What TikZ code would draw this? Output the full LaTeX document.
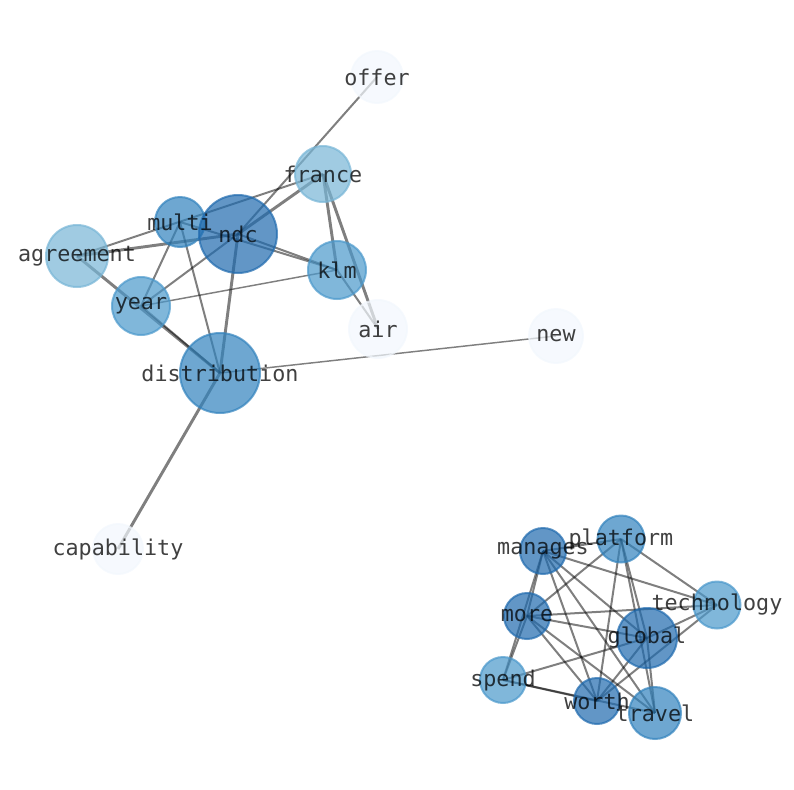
\documentclass[tikz,border=0pt]{standalone}
\usepackage{fontspec}
\setmonofont{DejaVu Sans Mono}
\definecolor{blueA}{HTML}{1F6AAE}
\definecolor{blueB}{HTML}{3182BD}
\definecolor{blueC}{HTML}{4A98CB}
\definecolor{blueD}{HTML}{77B5D6}
\definecolor{blueE}{HTML}{F2F7FD}
\begin{document}
\begin{tikzpicture}[x=0.75pt, y=-0.75pt,
		edge/.style={draw=black, draw opacity=0.5, line width=1.5pt},
		thin edge/.style={edge, line width=1.1pt},
		thick edge/.style={edge, line width=2.2pt},
		vertex/.style={circle, draw, fill, minimum size=#1*1.5pt, inner sep=0pt, fill opacity=0.7, draw opacity=0.7, line width=1.5pt},
		word/.style={font=\ttfamily\fontsize{16.3}{18}\selectfont, text=black, text opacity=0.75, inner sep=0pt}]
		\useasboundingbox (0,0) rectangle (794,790);
		
		\coordinate (offer) at (377,77);
		\coordinate (france) at (323,174);
		\coordinate (multi) at (180,222);
		\coordinate (ndc) at (238,234);
		\coordinate (agreement) at (77,256);
		\coordinate (klm) at (337,270);
		\coordinate (year) at (141,306);
		\coordinate (air) at (378,329);
		\coordinate (new) at (556,336);
		\coordinate (distribution) at (220,373);
		\coordinate (capability) at (118,549);
		\coordinate (manages) at (543,551);
		\coordinate (platform) at (621,539);
		\coordinate (technology) at (717,605);
		\coordinate (more) at (527,616);
		\coordinate (global) at (647,638);
		\coordinate (spend) at (503,680);
		\coordinate (worth) at (597,701);
		\coordinate (travel) at (655,713);
		
		\draw[edge] (offer) -- (ndc);
		\draw[thick edge] (france) -- (ndc);
		\draw[edge] (france) -- (agreement);
		\draw[thick edge] (france) -- (klm);
		\draw[thick edge] (france) -- (air);
		\draw[edge] (klm) -- (air);
		\draw[edge] (ndc) -- (klm);
		\draw[edge] (multi) -- (klm);
		\draw[thick edge] (agreement) -- (ndc);
		\draw[edge] (multi) -- (year);
		\draw[edge] (multi) -- (distribution);
		\draw[edge] (ndc) -- (year);
		\draw[thick edge] (ndc) -- (distribution);
		\draw[thin edge] (year) -- (klm);
		\draw[thick edge] (agreement) -- (distribution);
		\draw[edge] (year) -- (distribution);
		\draw[thin edge] (distribution) -- (new);
		\draw[thick edge] (distribution) -- (capability);
		
		\draw[edge] (manages) -- (platform);
		\draw[edge] (manages) -- (technology);
		\draw[edge] (manages) -- (more);
		\draw[edge] (manages) -- (spend);
		\draw[edge] (manages) -- (global);
		\draw[edge] (manages) -- (worth);
		\draw[edge] (manages) -- (travel);
		\draw[edge] (platform) -- (more);
		\draw[edge] (platform) -- (technology);
		\draw[edge] (platform) -- (global);
		\draw[edge] (platform) -- (travel);
		\draw[edge] (platform) -- (worth);
		\draw[edge] (technology) -- (more);
		\draw[edge] (technology) -- (global);
		\draw[edge] (technology) -- (worth);
		\draw[edge] (more) -- (global);
		\draw[edge] (more) -- (worth);
		\draw[edge] (more) -- (travel);
		\draw[edge] (more) -- (spend);
		\draw[edge] (global) -- (spend);
		\draw[edge] (global) -- (worth);
		\draw[edge] (global) -- (travel);
		\draw[edge] (spend) -- (worth);
		\draw[edge] (spend) -- (travel);
		
		\node[vertex=26, blueE] (offer-dot) at (offer) {};
		\node[vertex=28, blueD] (france-dot) at (france) {};
		\node[vertex=25, blueB] (multi-dot) at (multi) {};
		\node[vertex=39, blueA] (ndc-dot) at (ndc) {};
		\node[vertex=31, blueD] (agreement-dot) at (agreement) {};
		\node[vertex=29, blueC] (klm-dot) at (klm) {};
		\node[vertex=29, blueC] (year-dot) at (year) {};
		\node[vertex=29, blueE] (air-dot) at (air) {};
		\node[vertex=27, blueE] (new-dot) at (new) {};
		\node[vertex=40, blueB] (distribution-dot) at (distribution) {};
		\node[vertex=25, blueE] (capability-dot) at (capability) {};
		\node[vertex=23, blueA] (manages-dot) at (manages) {};
		\node[vertex=23.5, blueB] (platform-dot) at (platform) {};
		\node[vertex=23.5, blueC] (technology-dot) at (technology) {};
		\node[vertex=23, blueA] (more-dot) at (more) {};
		\node[vertex=30, blueA] (global-dot) at (global) {};
		\node[vertex=23, blueC] (spend-dot) at (spend) {};
		\node[vertex=23, blueA] (worth-dot) at (worth) {};
		\node[vertex=26, blueB] (travel-dot) at (travel) {};
		
		\node[word] (offer-word) at (offer) {offer};
		\node[word] (france-word) at (france) {france};
		\node[word] (multi-word) at (multi) {multi};
		\node[word] (ndc-word) at (ndc) {ndc};
		\node[word] (agreement-word) at (agreement) {agreement};
		\node[word] (klm-word) at (klm) {klm};
		\node[word] (year-word) at (year) {year};
		\node[word] (air-word) at (air) {air};
		\node[word] (new-word) at (new) {new};
		\node[word] (distribution-word) at (distribution) {distribution};
		\node[word] (capability-word) at (capability) {capability};
		\node[word] (manages-word) at (manages) {manages};
		\node[word] (platform-word) at (platform) {platform};
		\node[word] (technology-word) at (technology) {technology};
		\node[word] (more-word) at (more) {more};
		\node[word] (global-word) at (global) {global};
		\node[word] (spend-word) at (spend) {spend};
		\node[word] (worth-word) at (worth) {worth};
		\node[word] (travel-word) at (travel) {travel};
		
	\end{tikzpicture}
\end{document}
